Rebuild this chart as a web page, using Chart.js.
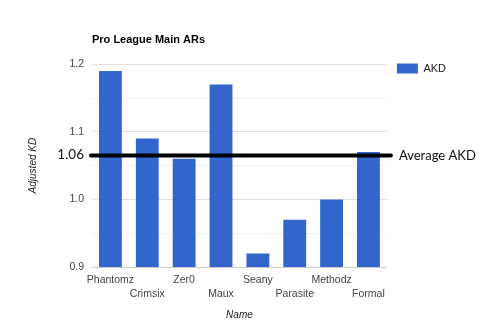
<!doctype html>
<html>
<head>
<meta charset="utf-8">
<title>Pro League Main ARs</title>
<script src="https://cdn.jsdelivr.net/npm/chart.js"></script>
<style>
  html, body { margin: 0; padding: 0; background: #fff; }
  #wrap { width: 480px; height: 331px; }
</style>
</head>
<body>
<div id="wrap"><canvas id="chart" width="480" height="331"></canvas></div>
<script>
// data
const names = ['Phantomz', 'Crimsix', 'Zer0', 'Maux', 'Seany', 'Parasite', 'Methodz', 'Formal'];
const akd = [1.19, 1.09, 1.06, 1.17, 0.92, 0.97, 1.00, 1.07];
const avgValue = 1.065;
const avgText = '1.06';
const avgLabel = 'Average AKD';

// staggered labels: every other one goes on the second line
const tickLabels = names.map((n, i) => i % 2 === 0 ? [n, ''] : ['', n]);

const avgLine = {
  id: 'avgLine',
  afterDatasetsDraw(chart) {
    const { ctx, chartArea } = chart;
    const y = chart.scales.y.getPixelForValue(avgValue);
    ctx.save();
    ctx.strokeStyle = '#000';
    ctx.lineWidth = 4;
    ctx.lineCap = 'round';
    ctx.beginPath();
    ctx.moveTo(chartArea.left - 1, y);
    ctx.lineTo(chartArea.right + 4, y);
    ctx.stroke();
    ctx.fillStyle = '#111';
    ctx.font = '13.5px Lato, "Open Sans", sans-serif';
    ctx.textBaseline = 'middle';
    ctx.textAlign = 'right';
    ctx.fillText(avgText, chartArea.left - 8, y - 1);
    ctx.font = '13px Lato, "Open Sans", sans-serif';
    ctx.textAlign = 'left';
    ctx.fillText(avgLabel, chartArea.right + 12, y);
    ctx.restore();
  }
};

new Chart(document.getElementById('chart'), {
  type: 'bar',
  data: {
    labels: tickLabels,
    datasets: [{
      label: 'AKD',
      data: akd,
      backgroundColor: '#3366cc',
      categoryPercentage: 1,
      barPercentage: 0.62
    }]
  },
  options: {
    responsive: false,
    animation: false,
    layout: { padding: { left: 0, right: 24, top: 0, bottom: 0 } },
    plugins: {
      title: {
        display: true,
        text: 'Pro League Main ARs',
        align: 'start',
        fullSize: false,
        color: '#000',
        font: { family: '"Liberation Sans", Arial, sans-serif', size: 11, weight: 'bold' },
        padding: { top: 33, bottom: 18 }
      },
      legend: {
        position: 'right',
        align: 'start',
        title: { display: true, text: ' ', font: { size: 10 }, padding: { top: 41, bottom: 0 } },
        labels: {
          boxWidth: 21,
          boxHeight: 10,
          padding: 10,
          color: '#222',
          font: { family: '"Liberation Sans", Arial, sans-serif', size: 11 }
        }
      },
      tooltip: { enabled: false }
    },
    scales: {
      x: {
        grid: { display: false },
        border: { display: false },
        ticks: {
          color: '#444',
          autoSkip: false,
          maxRotation: 0,
          padding: -2,
          font: { family: '"Liberation Sans", Arial, sans-serif', size: 10.5, lineHeight: 1.35 }
        },
        title: {
          display: true,
          text: 'Name',
          color: '#222',
          font: { family: '"Liberation Sans", Arial, sans-serif', size: 10, style: 'italic' },
          padding: { top: 0, bottom: 10 }
        },
        afterFit(scale) { scale.height = 64; }
      },
      y: {
        min: 0.9,
        max: 1.2,
        border: { display: false },
        grid: {
          drawTicks: false,
          color: ctx => {
            const v = Math.round(ctx.tick.value * 100);
            if (v === 90) return '#cccccc';
            return v % 10 === 0 ? '#e0e0e0' : '#f2f2f2';
          }
        },
        ticks: {
          stepSize: 0.05,
          padding: 8,
          color: '#444',
          font: { family: '"Liberation Sans", Arial, sans-serif', size: 10.5 },
          callback: v => Math.round(v * 100) % 10 === 0 ? v.toFixed(1) : ''
        },
        title: {
          display: true,
          text: 'Adjusted KD',
          color: '#222',
          font: { family: '"Liberation Sans", Arial, sans-serif', size: 10, style: 'italic' },
          padding: { top: 27, bottom: 0 }
        },
        afterFit(scale) { scale.width = 92; }
      }
    }
  },
  plugins: [avgLine]
});
</script>
</body>
</html>
